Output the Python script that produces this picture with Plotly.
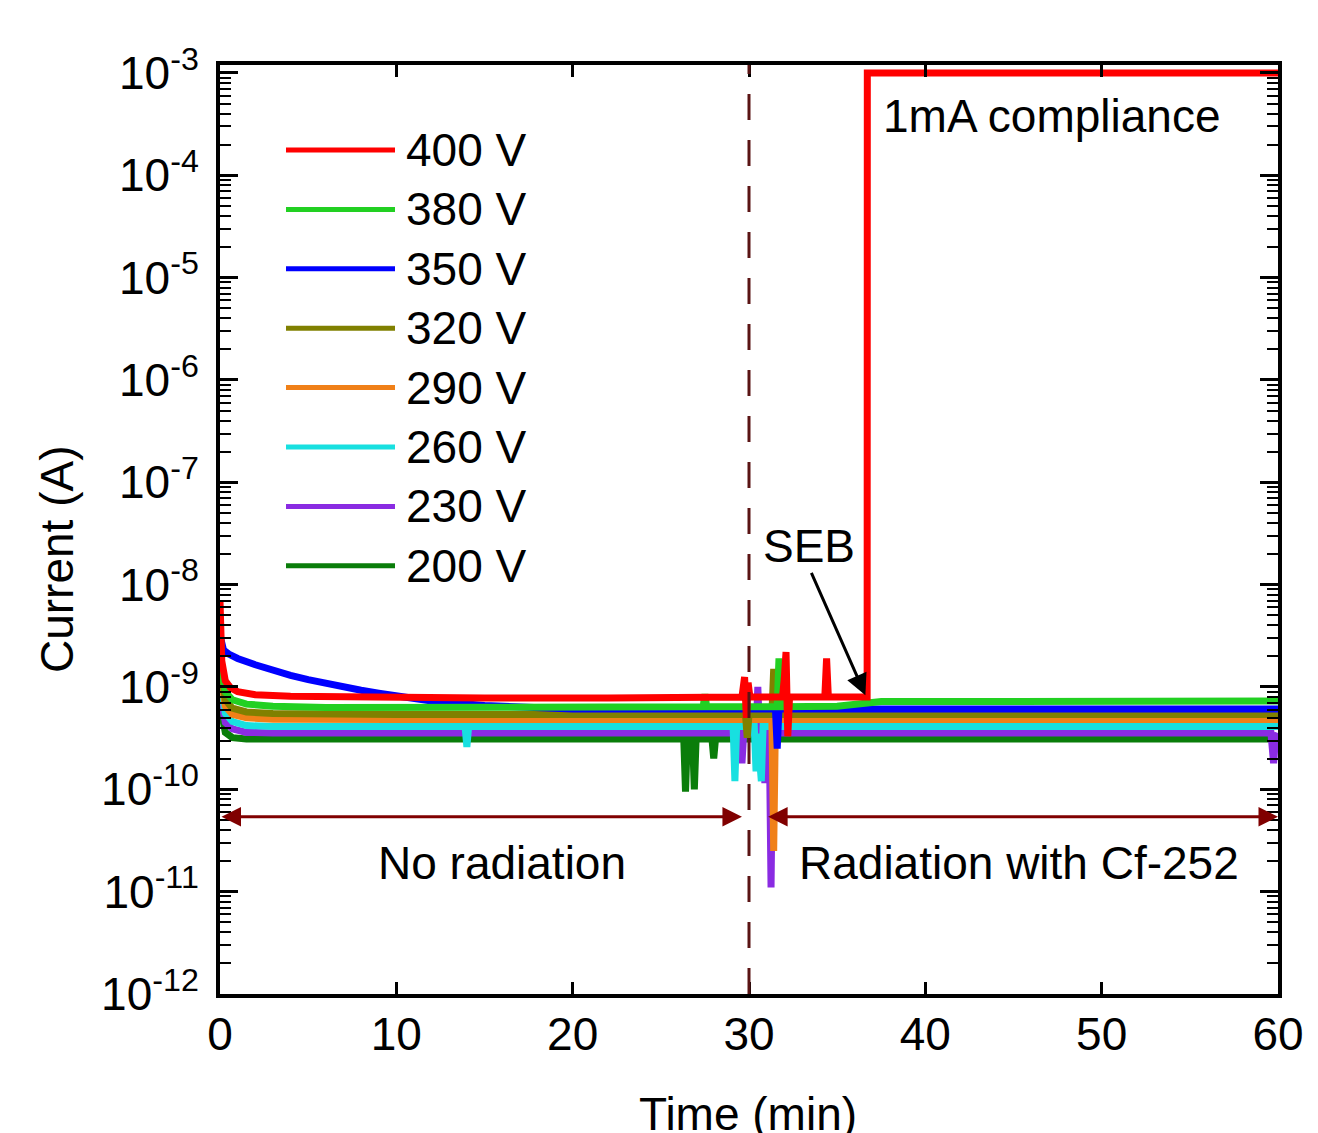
import plotly.graph_objects as go
import math

# ---------------- data ----------------
labels = ["400 V", "380 V", "350 V", "320 V", "290 V", "260 V", "230 V", "200 V"]
colors = ["#ff0000", "#22d022", "#0000ff", "#808000", "#f08018", "#18e0e0", "#8a2be2", "#0a7d0a"]

t_400 = [0, 0.1, 0.3, 0.6, 1.0, 2.0, 4.0, 8.0, 15, 22, 27, 29.6, 29.75, 29.85, 29.95, 30.05, 30.3,
         31.9, 32.0, 32.1, 32.2, 32.3, 34.3, 34.4, 34.5, 36.7, 36.71, 60]
i_400 = [7e-9, 1.8e-9, 1.15e-9, 9.8e-10, 9.0e-10, 8.4e-10, 8.1e-10, 7.9e-10, 7.8e-10, 7.8e-10, 7.9e-10, 8.0e-10,
         1.25e-9, 5.0e-10, 1.1e-9, 8.0e-10, 8.0e-10,
         8.0e-10, 1.2e-9, 2.2e-9, 3.3e-10, 8.0e-10, 8.0e-10, 1.9e-9, 8.0e-10, 8.0e-10, 1e-3, 1e-3]

t_380 = [0, 0.1, 0.3, 0.7, 1.5, 3, 6, 12, 20, 27.4, 27.5, 27.6, 31.6, 31.7, 31.8, 35, 37.5, 45, 55, 60]
i_380 = [4e-9, 1.5e-9, 9e-10, 7.5e-10, 6.8e-10, 6.5e-10, 6.3e-10, 6.3e-10, 6.4e-10, 6.4e-10, 8.5e-10, 6.4e-10,
         6.4e-10, 1.9e-9, 6.4e-10, 6.5e-10, 7.2e-10, 7.3e-10, 7.3e-10, 7.3e-10]

t_350 = [0, 0.2, 0.5, 1, 2, 3, 4, 5, 6, 7, 8, 9, 10, 12, 15, 20, 31.5, 31.6, 31.7, 60]
i_350 = [3.2e-9, 2.3e-9, 2.1e-9, 1.9e-9, 1.65e-9, 1.45e-9, 1.3e-9, 1.18e-9, 1.08e-9, 1.0e-9, 9.3e-10, 8.7e-10,
         8.2e-10, 7.3e-10, 6.6e-10, 6.1e-10, 6.1e-10, 2.5e-10, 6.1e-10, 6.1e-10]

t_320 = [0, 0.1, 0.3, 0.7, 1.5, 3, 10, 20, 29.8, 29.9, 30.0, 31.3, 31.4, 31.5, 60]
i_320 = [3e-9, 1.3e-9, 7.5e-10, 6.2e-10, 5.7e-10, 5.5e-10, 5.4e-10, 5.4e-10, 5.4e-10, 3.2e-10, 5.4e-10,
         5.4e-10, 1.5e-9, 5.4e-10, 5.4e-10]

t_290 = [0, 0.1, 0.3, 0.7, 1.5, 3, 10, 20, 31.3, 31.4, 31.5, 60]
i_290 = [2.5e-9, 1.1e-9, 6.5e-10, 5.4e-10, 5.0e-10, 4.85e-10, 4.8e-10, 4.8e-10, 4.8e-10, 2.5e-11, 4.8e-10, 4.8e-10]

t_260 = [0, 0.1, 0.3, 0.7, 1.5, 3, 10, 13.9, 14.0, 14.1, 29.1, 29.2, 29.3, 30.3, 30.4, 30.5, 30.6, 30.7, 30.8, 60]
i_260 = [2e-9, 9e-10, 5.5e-10, 4.6e-10, 4.2e-10, 4.1e-10, 4.1e-10, 4.1e-10, 2.6e-10, 4.1e-10, 4.1e-10, 1.2e-10,
         4.1e-10, 4.1e-10, 1.5e-10, 3.5e-10, 2.0e-10, 1.2e-10, 4.1e-10, 4.1e-10]

t_230 = [0, 0.1, 0.3, 0.7, 1.5, 3, 10, 29.5, 29.6, 29.7, 30.4, 30.5, 30.6, 30.8, 30.9, 31.0, 31.15, 31.25, 31.35,
         59.6, 59.75, 59.85, 60]
i_230 = [1.5e-9, 7e-10, 4.5e-10, 3.9e-10, 3.6e-10, 3.55e-10, 3.55e-10, 3.55e-10, 1.8e-10, 3.55e-10, 3.55e-10, 1.0e-9,
         3.55e-10, 3.55e-10, 1.15e-10, 3.55e-10, 3.55e-10, 1.1e-11, 3.55e-10, 3.55e-10, 1.8e-10, 3.0e-10, 3.55e-10]

t_200 = [0, 0.1, 0.3, 0.7, 1.5, 3, 10, 26.3, 26.4, 26.5, 26.8, 26.9, 27.0, 27.9, 28.0, 28.1, 60]
i_200 = [1.2e-9, 5.5e-10, 3.6e-10, 3.2e-10, 3.1e-10, 3.1e-10, 3.1e-10, 3.1e-10, 9.5e-11, 3.1e-10, 3.1e-10, 1.0e-10,
         3.1e-10, 3.1e-10, 2.0e-10, 3.1e-10, 3.1e-10]

series_t = [t_400, t_380, t_350, t_320, t_290, t_260, t_230, t_200]
series_i = [i_400, i_380, i_350, i_320, i_290, i_260, i_230, i_200]

y_exponents = list(range(-12, -2))
x_ticks = [0, 10, 20, 30, 40, 50, 60]

radiation_start = 30
arrow_level = 5.4e-11

FONT = "Arial, Liberation Sans, sans-serif"
FS = 46

fig = go.Figure()

for k in reversed(range(len(labels))):
    fig.add_trace(go.Scatter(x=series_t[k], y=series_i[k], mode="lines", name=labels[k],
                             line=dict(color=colors[k], width=7), showlegend=False))

fig.add_shape(type="line", x0=radiation_start, x1=radiation_start, y0=0, y1=1, xref="x", yref="paper",
              line=dict(color="#5a1414", width=3, dash="26px,20px"))

# plot-area box in page pixels (page has an 8px body margin)
OFF = 8
L, R, T, B = 220, 1278, 65, 994
W, H = R - L, B - T
def px(xp): return (xp - L) / W
def py(yp): return (B - yp) / H

for k, lab in enumerate(labels):
    yrow = 150 + 59.4 * k
    fig.add_shape(type="line", xref="paper", yref="paper", x0=px(286), x1=px(395), y0=py(yrow), y1=py(yrow),
                  line=dict(color=colors[k], width=5))
    fig.add_annotation(xref="paper", yref="paper", x=px(404), y=py(yrow), text=lab, showarrow=False,
                       xanchor="left", yanchor="middle", font=dict(size=FS, family=FONT, color="black"))

la = math.log10(arrow_level)
fig.add_annotation(x=29.6, y=la, ax=0, ay=la, xref="x", yref="y", axref="x", ayref="y", text="",
                   showarrow=True, arrowside="end+start", arrowhead=2, arrowsize=1.3, arrowwidth=3,
                   arrowcolor="#800000")
fig.add_annotation(x=60, y=la, ax=31.0, ay=la, xref="x", yref="y", axref="x", ayref="y", text="",
                   showarrow=True, arrowside="end+start", arrowhead=2, arrowsize=1.3, arrowwidth=3,
                   arrowcolor="#800000")

fig.add_annotation(x=16, y=-10.72, xref="x", yref="y", text="No radiation", showarrow=False,
                   xanchor="center", yanchor="middle", font=dict(size=FS, family=FONT, color="black"))
fig.add_annotation(x=45.3, y=-10.72, xref="x", yref="y", text="Radiation with Cf-252", showarrow=False,
                   xanchor="center", yanchor="middle", font=dict(size=FS, family=FONT, color="black"))
fig.add_annotation(x=37.5, y=-3.42, xref="x", yref="y", text="1mA compliance", showarrow=False,
                   xanchor="left", yanchor="middle", font=dict(size=FS, family=FONT, color="black"))
fig.add_annotation(x=33.4, y=-7.62, xref="x", yref="y", text="SEB", showarrow=False,
                   xanchor="center", yanchor="middle", font=dict(size=FS, family=FONT, color="black"))
fig.add_annotation(x=36.6, y=-9.08, ax=33.5, ay=-7.87, xref="x", yref="y", axref="x", ayref="y", text="",
                   showarrow=True, arrowhead=2, arrowsize=1.4, arrowwidth=3, arrowcolor="black")

fig.add_annotation(xref="paper", yref="paper", x=px(57), y=py(560), text="Current (A)", showarrow=False,
                   xanchor="center", yanchor="middle", textangle=-90,
                   font=dict(size=FS, family=FONT, color="black"))
fig.add_annotation(xref="paper", yref="paper", x=px(748), y=py(1114), text="Time (min)", showarrow=False,
                   xanchor="center", yanchor="middle", font=dict(size=FS, family=FONT, color="black"))

fig.update_layout(
    width=1318, height=1133,
    margin=dict(l=L - OFF, r=1318 - (R - OFF), t=T - OFF, b=1133 - (B - OFF)),
    paper_bgcolor="white", plot_bgcolor="white",
    font=dict(family=FONT, size=FS, color="black"),
    showlegend=False,
)
fig.update_xaxes(range=[0, 60], tickvals=x_ticks, ticks="inside", ticklen=12, tickwidth=3,
                 tickcolor="black", showline=True, linewidth=4, linecolor="black", mirror="allticks",
                 showgrid=False, zeroline=False, tickfont=dict(size=FS, family=FONT),
                 ticklabelstandoff=-3)
fig.update_yaxes(type="log", range=[-12, -2.922],
                 tickvals=[10 ** e for e in y_exponents],
                 ticktext=["10<sup>%d</sup>" % e for e in y_exponents],
                 ticks="inside", ticklen=18, tickwidth=3, tickcolor="black",
                 minor=dict(ticks="inside", ticklen=11, tickwidth=2, tickcolor="black", dtick="D1",
                            showgrid=False),
                 showline=True, linewidth=4, linecolor="black", mirror="allticks",
                 showgrid=False, zeroline=False, tickfont=dict(size=FS, family=FONT),
                 ticklabelstandoff=8)

fig.write_html("out.html")
